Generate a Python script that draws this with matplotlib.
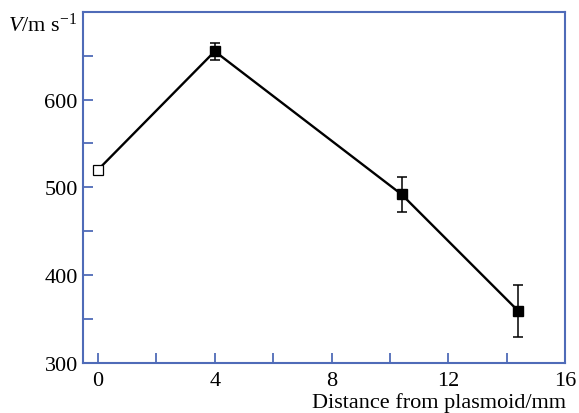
import numpy as np
import matplotlib.pyplot as plt

# data
dist = [0, 4, 10.4, 14.4]
vel = [520, 655, 492, 359]
err = [0, 10, 20, 30]

blue = '#4f6bb8'

plt.rcParams['font.family'] = 'Liberation Serif'
plt.rcParams['mathtext.fontset'] = 'custom'
plt.rcParams['mathtext.rm'] = 'Liberation Serif'
plt.rcParams['mathtext.it'] = 'Liberation Serif:italic'

fig = plt.figure(figsize=(5.79, 4.14), dpi=100)
ax = fig.add_axes([0.144, 0.121, 0.832, 0.848])

ax.plot(dist, vel, color='black', lw=1.7, zorder=2)
ax.errorbar(dist[1:], vel[1:], yerr=err[1:], fmt='s', color='black',
            ms=6.5, elinewidth=1.1, capsize=3.5, capthick=1.1, zorder=3)
ax.plot(dist[0], vel[0], 's', ms=6.5, mfc='white', mec='black', mew=0.9, zorder=3)

ax.set_xlim(-0.5, 16)
ax.set_ylim(300, 700)
ax.set_xticks(np.arange(0, 17, 2))
ax.set_xticklabels(['0', '', '4', '', '8', '', '12', '', '16'])
ax.set_yticks(np.arange(300, 701, 50))
ax.set_yticklabels(['300', '', '400', '', '500', '', '600', '', ''])

for s in ax.spines.values():
    s.set_color(blue)
    s.set_linewidth(1.5)
ax.tick_params(direction='in', length=7, width=1.3, color=blue,
               labelsize=16, pad=4)
ax.tick_params(axis='x', pad=6)

fig.text(0.978, 0.027, 'Distance from plasmoid/mm', ha='right', va='center', fontsize=16)
fig.text(0.133, 0.922, r'$V$/m s$^{-1}$', ha='right', va='baseline', fontsize=16)

fig.savefig('out.png', dpi=100)
